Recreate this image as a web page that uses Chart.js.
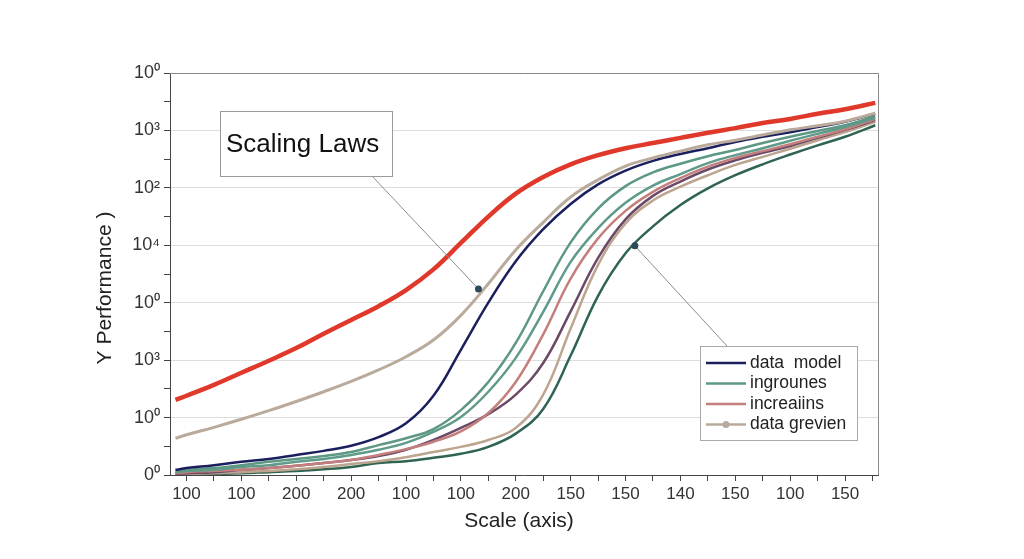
<!DOCTYPE html>
<html>
<head>
<meta charset="utf-8">
<script src="https://cdn.jsdelivr.net/npm/chart.js@4.4.1/dist/chart.umd.min.js"></script>
<style>
  html, body { margin: 0; padding: 0; background: #fff; }
</style>
</head>
<body>
<canvas id="myChart" width="1024" height="559"></canvas>
<script>
// x positions of the sampled points (category index units)
const xPos = [-0.2, 0, 0.5, 1, 1.5, 2, 2.5, 3, 3.5, 4, 4.5, 5, 5.5, 6, 6.5, 7, 7.5, 8, 8.5, 9, 9.5, 10, 10.5, 11, 11.5, 12, 12.55];
const xLabels = ['100', '100', '200', '200', '100', '100', '200', '150', '150', '140', '150', '100', '150'];
const yLabels = ['0⁰', '10⁰', '10³', '10⁰', '10⁴', '10²', '10³', '10⁰'];

const red       = [1.31, 1.38, 1.57, 1.78, 1.99, 2.21, 2.46, 2.70, 2.94, 3.22, 3.58, 4.04, 4.50, 4.90, 5.19, 5.41, 5.57, 5.69, 5.78, 5.87, 5.96, 6.04, 6.13, 6.20, 6.29, 6.37, 6.48];
const grevien   = [0.64, 0.70, 0.83, 0.97, 1.12, 1.28, 1.45, 1.63, 1.83, 2.06, 2.35, 2.78, 3.33, 3.92, 4.40, 4.84, 5.14, 5.38, 5.52, 5.64, 5.75, 5.83, 5.92, 6.01, 6.08, 6.16, 6.30];
const model     = [0.09, 0.12, 0.17, 0.23, 0.28, 0.35, 0.42, 0.51, 0.66, 0.90, 1.38, 2.18, 3.00, 3.72, 4.28, 4.72, 5.06, 5.30, 5.47, 5.59, 5.69, 5.80, 5.89, 5.97, 6.06, 6.15, 6.29];
const ingrounes = [0.07, 0.09, 0.12, 0.17, 0.23, 0.28, 0.33, 0.40, 0.52, 0.64, 0.80, 1.13, 1.62, 2.30, 3.20, 4.05, 4.64, 5.03, 5.27, 5.42, 5.55, 5.66, 5.78, 5.89, 5.99, 6.09, 6.25];
const teal2     = [0.05, 0.07, 0.09, 0.14, 0.17, 0.23, 0.28, 0.35, 0.44, 0.56, 0.75, 1.01, 1.45, 2.04, 2.84, 3.71, 4.30, 4.74, 5.04, 5.24, 5.43, 5.57, 5.69, 5.82, 5.94, 6.06, 6.22];
const increains = [0.03, 0.05, 0.07, 0.09, 0.12, 0.16, 0.21, 0.26, 0.35, 0.45, 0.58, 0.76, 1.08, 1.62, 2.45, 3.42, 4.12, 4.60, 4.93, 5.17, 5.37, 5.52, 5.64, 5.76, 5.89, 6.02, 6.20];
const purple    = [0.02, 0.03, 0.05, 0.09, 0.12, 0.16, 0.21, 0.26, 0.33, 0.44, 0.61, 0.82, 1.06, 1.40, 1.95, 2.85, 3.78, 4.45, 4.86, 5.11, 5.32, 5.48, 5.61, 5.73, 5.87, 6.01, 6.18];
const tan2      = [0.02, 0.02, 0.03, 0.05, 0.07, 0.10, 0.14, 0.19, 0.24, 0.31, 0.40, 0.49, 0.61, 0.82, 1.40, 2.55, 3.66, 4.38, 4.78, 5.02, 5.22, 5.40, 5.54, 5.68, 5.83, 5.97, 6.15];
const darkGreen = [0.00, 0.01, 0.02, 0.03, 0.05, 0.07, 0.10, 0.14, 0.21, 0.24, 0.30, 0.37, 0.49, 0.72, 1.15, 2.08, 3.12, 3.86, 4.33, 4.70, 4.99, 5.22, 5.41, 5.58, 5.74, 5.89, 6.09];

// callout dots (data coords), leader goes to a box corner
const callouts = [
  { x: 5.32, y: 3.24, to: [372, 176] },
  { x: 8.17, y: 3.99, to: [727, 346] }
];

const legendItems = [
  { text: 'data  model', color: '#1b1f5e', dot: false },
  { text: 'ingrounes', color: '#5c9884', dot: false },
  { text: 'increaiins', color: '#c47f7c', dot: false },
  { text: 'data grevien', color: '#b9aa9b', dot: true }
];

const FONT = "'Liberation Sans', Arial, sans-serif";
const NARROW = "'Liberation Sans Narrow', 'Liberation Sans', Arial, sans-serif";

function pts(arr) {
  return arr.map((v, i) => ({ x: xPos[i], y: v }));
}
function line(label, arr, color, width) {
  return {
    label: label,
    data: pts(arr),
    borderColor: color,
    backgroundColor: color,
    borderWidth: width,
    pointRadius: 0,
    tension: 0.4,
    fill: false
  };
}

const extras = {
  id: 'extras',
  afterDatasetsDraw(chart) {
    const { ctx, chartArea: a, scales } = chart;
    ctx.save();
    // frame top and right
    ctx.strokeStyle = '#8a8a8a';
    ctx.lineWidth = 1;
    ctx.beginPath();
    ctx.moveTo(a.left, a.top + 0.5);
    ctx.lineTo(a.right + 0.5, a.top + 0.5);
    ctx.lineTo(a.right + 0.5, a.bottom);
    ctx.stroke();

    // axis titles
    ctx.fillStyle = '#222';
    ctx.textAlign = 'center';
    ctx.textBaseline = 'middle';
    ctx.font = '21px ' + NARROW;
    ctx.fillText('Scale (axis)', 519, 521);
    ctx.save();
    ctx.translate(105, 288);
    ctx.rotate(-Math.PI / 2);
    ctx.font = '21px ' + FONT;
    ctx.fillText('Y Performance )', 0, 0);
    ctx.restore();
    ctx.textAlign = 'left';

    // callout leader lines + dots
    callouts.forEach(c => {
      const px = scales.x.getPixelForValue(c.x);
      const py = scales.y.getPixelForValue(c.y);
      ctx.strokeStyle = '#8c8c8c';
      ctx.lineWidth = 1;
      ctx.beginPath();
      ctx.moveTo(c.to[0], c.to[1]);
      ctx.lineTo(px, py);
      ctx.stroke();
      ctx.fillStyle = '#2c4a58';
      ctx.beginPath();
      ctx.arc(px, py, 3.5, 0, Math.PI * 2);
      ctx.fill();
    });

    // title box
    ctx.fillStyle = '#fff';
    ctx.fillRect(220, 111, 172, 65);
    ctx.strokeStyle = '#9a9a9a';
    ctx.strokeRect(220.5, 111.5, 172, 65);
    ctx.fillStyle = '#111';
    ctx.font = '26px ' + FONT;
    ctx.fillText('Scaling Laws', 226, 145);

    // legend box
    ctx.fillStyle = '#fff';
    ctx.fillRect(700, 346, 157, 94);
    ctx.strokeStyle = '#aaaaaa';
    ctx.strokeRect(700.5, 346.5, 157, 94);
    ctx.font = '17.5px ' + FONT;
    legendItems.forEach((it, i) => {
      const y = 363 + i * 20.5;
      ctx.strokeStyle = it.color;
      ctx.lineWidth = 2.5;
      ctx.beginPath();
      ctx.moveTo(706, y);
      ctx.lineTo(746, y);
      ctx.stroke();
      if (it.dot) {
        ctx.fillStyle = it.color;
        ctx.beginPath();
        ctx.arc(726, y, 3.5, 0, Math.PI * 2);
        ctx.fill();
      }
      ctx.fillStyle = '#222';
      ctx.fillText(it.text, 750, y);
    });
    ctx.restore();
  }
};

new Chart(document.getElementById('myChart'), {
  type: 'line',
  data: {
    datasets: [
      line('red', red, '#e0392b', 4.5),
      line('data grevien', grevien, '#b9aa9b', 3),
      line('data model', model, '#1b1f5e', 2.5),
      line('ingrounes', ingrounes, '#5c9884', 2.5),
      line('teal', teal2, '#5f9a8a', 2.5),
      line('increaiins', increains, '#c47f7c', 2.5),
      line('purple', purple, '#6b4a68', 2.5),
      line('tan', tan2, '#bda48e', 2.5),
      line('dark green', darkGreen, '#2f6453', 2.5)
    ]
  },
  options: {
    responsive: false,
    devicePixelRatio: 1,
    animation: false,
    layout: { padding: { left: 93, right: 146, top: 73, bottom: 24 } },
    plugins: {
      legend: { display: false },
      tooltip: { enabled: false }
    },
    scales: {
      x: {
        type: 'linear',
        min: -0.3,
        max: 12.6,
        afterBuildTicks: axis => {
          const t = [];
          for (let v = 0; v <= 12.5; v += 0.5) t.push({ value: v });
          axis.ticks = t;
        },
        afterFit: axis => { axis.height = 60; },
        ticks: {
          autoSkip: false,
          maxRotation: 0,
          padding: 3,
          color: '#333',
          font: { family: NARROW, size: 17 },
          callback: v => Number.isInteger(v) ? xLabels[v] : ''
        },
        grid: { drawOnChartArea: false, tickLength: 6, color: '#444' },
        border: { color: '#444', width: 1 }
      },
      y: {
        type: 'linear',
        min: 0,
        max: 7,
        afterBuildTicks: axis => {
          const t = [];
          for (let v = 0; v <= 7; v += 0.5) t.push({ value: v });
          axis.ticks = t;
        },
        afterFit: axis => { axis.width = 77; },
        ticks: {
          autoSkip: false,
          padding: 4,
          color: '#333',
          font: { family: FONT, size: 18 },
          callback: v => Number.isInteger(v) ? yLabels[v] : ''
        },
        grid: {
          tickLength: 6,
          color: c => (Number.isInteger(c.tick.value) && c.tick.value > 0 && c.tick.value < 7) ? '#dddddd' : 'rgba(0,0,0,0)',
          tickColor: '#444',
          lineWidth: 1
        },
        border: { color: '#444', width: 1 }
      }
    }
  },
  plugins: [extras]
});
</script>
</body>
</html>
